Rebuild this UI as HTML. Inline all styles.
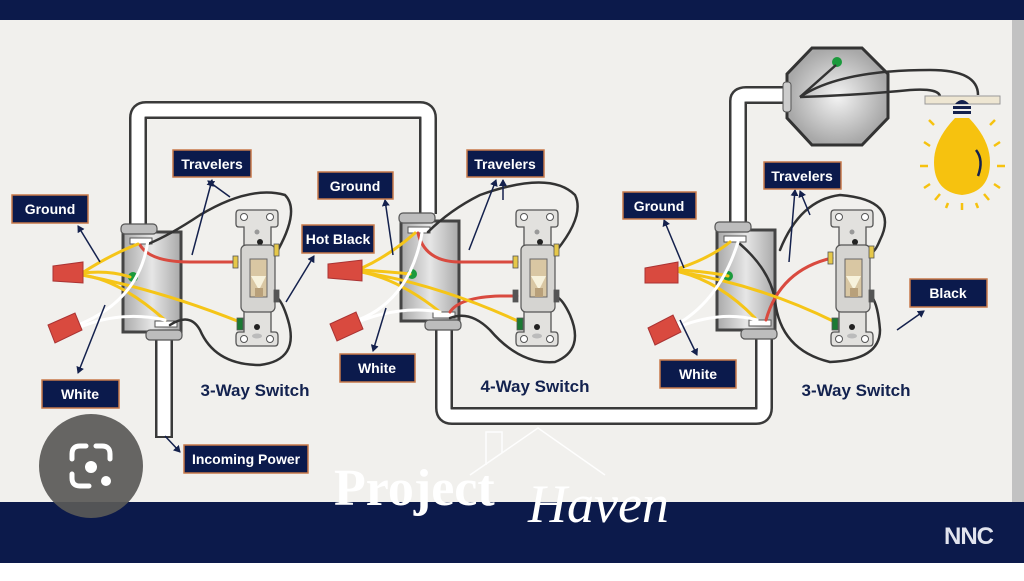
<!DOCTYPE html>
<html><head><meta charset="utf-8"><style>
html,body{margin:0;padding:0;background:#fff;}
svg{display:block;font-family:"Liberation Sans",Arial,sans-serif;}
.lb rect{fill:#0b1a4c;stroke:#c8794a;stroke-width:1.5;}
.lb text{fill:#fff;font-size:14px;font-weight:bold;text-anchor:middle;}
.ti{fill:#13224f;font-size:17px;font-weight:bold;text-anchor:middle;}
.ar{stroke:#14214d;stroke-width:1.5;fill:none;marker-end:url(#ah);}
</style></head><body>
<svg width="1024" height="581" viewBox="0 0 1024 581">
<defs>
<marker id="ah" markerWidth="8" markerHeight="8" refX="6" refY="4" orient="auto" markerUnits="userSpaceOnUse"><path d="M0,0 L7,4 L0,8 Z" fill="#14214d"/></marker>
<linearGradient id="bx" x1="0" x2="1"><stop offset="0" stop-color="#a9a9a9"/><stop offset=".5" stop-color="#e6e6e6"/><stop offset="1" stop-color="#a9a9a9"/></linearGradient>
<radialGradient id="oc"><stop offset="0" stop-color="#f4f4f4"/><stop offset="1" stop-color="#a8a8a8"/></radialGradient>
<g id="sw">
 <path d="M2,0 H38 Q41,0 41,4 V14 Q41,17 38,17 H34 V122 H38 Q41,122 41,126 V132 Q41,136 38,136 H2 Q-1,136 -1,132 V126 Q-1,122 2,122 H7 V17 H2 Q-1,17 -1,14 V4 Q-1,0 2,0Z" fill="#e2e1de" stroke="#555" stroke-width="1.3"/>
 <circle cx="7" cy="7" r="3.5" fill="#fff" stroke="#555"/><circle cx="33" cy="7" r="3.5" fill="#fff" stroke="#555"/>
 <circle cx="7" cy="129" r="3.5" fill="#fff" stroke="#555"/><circle cx="33" cy="129" r="3.5" fill="#fff" stroke="#555"/>
 <circle cx="20" cy="22" r="2.5" fill="#999"/><circle cx="23" cy="32" r="3" fill="#222"/><circle cx="20" cy="117" r="3" fill="#222"/>
 <ellipse cx="20" cy="126" rx="5" ry="2.5" fill="#bbb"/>
 <rect x="4" y="35" width="34" height="67" rx="5" fill="#d5d4d1" stroke="#555" stroke-width="1.2"/>
 <rect x="13" y="49" width="17" height="38" fill="#d9c7a3" stroke="#666"/>
 <path d="M14,66 H29 L22,80Z" fill="#f7f2dc"/><rect x="18" y="78" width="8" height="9" fill="#b8a07a"/>
</g>
<g id="bxg">
 <rect x="0" y="0" width="58" height="100" fill="url(#bx)" stroke="#444" stroke-width="3"/>
</g>
</defs>
<rect width="1024" height="581" fill="#fff"/>
<rect y="20" width="1012" height="482" fill="#f1f0ed"/>
<rect x="1012" y="20" width="12" height="482" fill="#c2c2c2"/>
<rect width="1024" height="20" fill="#0c1a4b"/>
<rect y="502" width="1024" height="61" fill="#0c1a4b"/>

<!-- conduits -->
<g fill="none" stroke="#3a3a3a" stroke-width="18" stroke-linejoin="round">
 <path d="M138,228 V118 Q138,110 146,110 H420 Q428,110 428,118 V214"/>
 <path d="M444,322 V408 Q444,416 452,416 H756 Q764,416 764,408 V338"/>
 <path d="M738,224 V101 Q738,95 746,95 H790"/>
 <path d="M164,340 V438"/>
</g>
<g fill="none" stroke="#fff" stroke-width="13" stroke-linejoin="round">
 <path d="M138,228 V118 Q138,110 146,110 H420 Q428,110 428,118 V214"/>
 <path d="M444,322 V408 Q444,416 452,416 H756 Q764,416 764,408 V338"/>
 <path d="M738,224 V101 Q738,95 746,95 H790"/>
 <path d="M164,340 V436"/>
</g>

<!-- octagon & bulb -->
<path d="M812,48 H862 L888,74 V118 L862,145 H812 L787,118 V74Z" fill="url(#oc)" stroke="#333" stroke-width="3"/>
<rect x="783" y="82" width="8" height="30" rx="3" fill="#ccc" stroke="#555"/>
<circle cx="837" cy="62" r="5" fill="#1b9a3c"/>
<g fill="none" stroke="#333" stroke-width="2.5">
 <path d="M800,97 Q840,70 930,70 Q978,70 978,95"/>
 <path d="M800,97 Q860,95 910,90 Q940,88 940,97"/>
 <path d="M800,97 L836,65"/>
</g>
<rect x="925" y="96" width="75" height="8" fill="#eee6d2" stroke="#999"/>
<path d="M955,104 Q962,96 969,104Z" fill="#14214d"/>
<rect x="953" y="106" width="18" height="3" fill="#14214d"/><rect x="953" y="111" width="18" height="3" fill="#14214d"/>
<path d="M955,118 Q934,140 934,162 Q934,192 962,195 Q990,192 990,162 Q990,140 969,118Z" fill="#f6c20f"/>
<path d="M976,150 Q984,160 978,176" stroke="#14214d" stroke-width="2.5" fill="none"/>
<g stroke="#f6c20f" stroke-width="2.5">
 <line x1="920" y1="166" x2="928" y2="166"/><line x1="997" y1="166" x2="1005" y2="166"/>
 <line x1="924" y1="142" x2="930" y2="146"/><line x1="1000" y1="142" x2="994" y2="146"/>
 <line x1="924" y1="188" x2="930" y2="184"/><line x1="1000" y1="188" x2="994" y2="184"/>
 <line x1="935" y1="200" x2="940" y2="194"/><line x1="989" y1="200" x2="984" y2="194"/>
 <line x1="962" y1="203" x2="962" y2="210"/><line x1="948" y1="203" x2="946" y2="208"/><line x1="976" y1="203" x2="978" y2="208"/>
 <line x1="929" y1="120" x2="934" y2="125"/><line x1="995" y1="120" x2="990" y2="125"/>
</g>

<!-- boxes -->
<use href="#bxg" x="123" y="232"/>
<use href="#bxg" x="401" y="221"/>
<use href="#bxg" x="717" y="230"/>
<g fill="#bdbdbd" stroke="#555" stroke-width="1.2">
 <rect x="121" y="224" width="36" height="10" rx="4"/><rect x="146" y="330" width="36" height="10" rx="4"/>
 <rect x="399" y="213" width="36" height="10" rx="4"/><rect x="425" y="320" width="36" height="10" rx="4"/>
 <rect x="715" y="222" width="36" height="10" rx="4"/><rect x="741" y="329" width="36" height="10" rx="4"/>
</g>
<g fill="#fff" stroke="#555"><rect x="130" y="238" width="22" height="6"/><rect x="155" y="321" width="22" height="6"/>
<rect x="408" y="227" width="22" height="6"/><rect x="433" y="312" width="22" height="6"/>
<rect x="724" y="236" width="22" height="6"/><rect x="749" y="320" width="22" height="6"/></g>
<circle cx="133" cy="277" r="5" fill="#1b9a3c"/><circle cx="412" cy="274" r="5" fill="#1b9a3c"/><circle cx="728" cy="276" r="5" fill="#1b9a3c"/>

<!-- wires box1 -->
<g fill="none" stroke-linecap="round">
 <g stroke="#333" stroke-width="2.5">
  <path d="M148,244 Q170,235 200,215 Q250,185 285,195 Q300,210 278,250"/>
  <path d="M170,325 Q190,312 200,330 Q215,365 260,365 Q300,360 288,320 Q282,300 276,297"/>
  <path d="M428,232 Q450,210 480,195 Q550,170 575,195 Q585,215 557,250"/>
  <path d="M450,318 Q470,310 490,330 Q520,365 555,362 Q585,350 570,315 Q563,300 557,297"/>
  <path d="M740,244 Q770,270 775,300 Q780,350 830,362 Q880,360 880,330 Q878,305 872,297"/>
  <path d="M780,250 Q800,200 840,195 Q900,200 880,240 Q875,252 872,252"/>
 </g>
 <g stroke="#d94a3f" stroke-width="3">
  <path d="M140,245 Q150,262 190,262 H237"/>
  <path d="M418,233 Q425,262 460,262 H517"/>
  <path d="M450,312 Q460,297 500,296 H517"/>
  <path d="M766,320 Q780,270 832,258"/>
 </g>
 <g stroke="#f5c518" stroke-width="3">
  <path d="M82,273 Q110,255 138,244"/><path d="M82,273 Q110,270 130,277"/>
  <path d="M82,275 Q160,290 240,322"/><path d="M82,275 Q120,280 165,320"/>
  <path d="M362,268 Q390,255 415,233"/><path d="M362,270 Q390,272 410,274"/>
  <path d="M362,272 Q440,285 520,322"/><path d="M362,272 Q400,280 440,312"/>
  <path d="M680,268 Q710,258 730,242"/><path d="M680,270 Q710,272 728,276"/>
  <path d="M680,272 Q760,285 835,322"/><path d="M680,272 Q720,282 755,318"/>
 </g>
 <g stroke="#fff" stroke-width="3">
  <path d="M78,325 Q140,300 148,240"/><path d="M78,328 Q120,310 165,320"/>
  <path d="M358,320 Q410,300 422,233"/><path d="M358,322 Q400,305 440,312"/>
  <path d="M676,325 Q720,300 738,242"/><path d="M676,328 Q720,310 757,320"/>
 </g>
</g>
<!-- wire nuts -->
<g fill="#d94a3f" stroke="#a33" stroke-width="1">
 <path d="M53,266 L83,262 L83,283 L53,281Z"/>
 <path d="M48,325 L75,313 L82,330 L55,343Z"/>
 <path d="M328,264 L362,260 L362,281 L328,278Z"/>
 <path d="M330,324 L356,312 L363,329 L337,341Z"/>
 <path d="M645,268 L678,262 L678,283 L645,283Z"/>
 <path d="M648,328 L673,315 L681,332 L655,345Z"/>
</g>

<!-- switches -->
<use href="#sw" x="237" y="210"/>
<use href="#sw" x="517" y="210"/>
<use href="#sw" x="832" y="210"/>
<g stroke="#555" stroke-width=".8">
 <rect x="233" y="256" width="5" height="12" fill="#e6c84a"/><rect x="274" y="244" width="5" height="12" fill="#e6c84a"/><rect x="274" y="290" width="5" height="12" fill="#555"/><rect x="237" y="318" width="6" height="12" fill="#1b7a34"/>
 <rect x="513" y="256" width="5" height="12" fill="#e6c84a"/><rect x="554" y="244" width="5" height="12" fill="#e6c84a"/><rect x="554" y="290" width="5" height="12" fill="#555"/><rect x="513" y="290" width="5" height="12" fill="#555"/><rect x="517" y="318" width="6" height="12" fill="#1b7a34"/>
 <rect x="828" y="252" width="5" height="12" fill="#e6c84a"/><rect x="869" y="246" width="5" height="12" fill="#e6c84a"/><rect x="869" y="290" width="5" height="12" fill="#555"/><rect x="832" y="318" width="6" height="12" fill="#1b7a34"/>
</g>

<!-- arrows -->
<path class="ar" d="M100,262 L78,226"/><path class="ar" d="M105,305 L78,373"/>
<path class="ar" d="M192,255 L212,180"/><path class="ar" d="M230,197 L208,181"/>
<path class="ar" d="M286,302 L314,256"/>
<path class="ar" d="M165,436 L180,452"/>
<path class="ar" d="M393,255 L385,200"/><path class="ar" d="M386,308 L373,351"/>
<path class="ar" d="M469,250 L496,180"/><path class="ar" d="M503,200 L503,180"/>
<path class="ar" d="M684,268 L664,220"/><path class="ar" d="M680,320 L697,355"/>
<path class="ar" d="M789,262 L795,190"/><path class="ar" d="M810,215 L800,191"/>
<path class="ar" d="M897,330 L924,311"/>

<!-- labels -->
<g class="lb">
 <rect x="12" y="195" width="76" height="28"/><text x="50" y="214">Ground</text>
 <rect x="173" y="150" width="78" height="27"/><text x="212" y="169">Travelers</text>
 <rect x="42" y="380" width="77" height="28"/><text x="80" y="399">White</text>
 <rect x="302" y="225" width="72" height="28"/><text x="338" y="244">Hot Black</text>
 <rect x="318" y="172" width="75" height="27"/><text x="355" y="191">Ground</text>
 <rect x="467" y="150" width="77" height="27"/><text x="505" y="169">Travelers</text>
 <rect x="340" y="354" width="75" height="28"/><text x="377" y="373">White</text>
 <rect x="184" y="445" width="124" height="28"/><text x="246" y="464">Incoming Power</text>
 <rect x="623" y="192" width="73" height="27"/><text x="659" y="211">Ground</text>
 <rect x="764" y="162" width="77" height="27"/><text x="802" y="181">Travelers</text>
 <rect x="660" y="360" width="76" height="28"/><text x="698" y="379">White</text>
 <rect x="910" y="279" width="77" height="28"/><text x="948" y="298">Black</text>
</g>
<text class="ti" x="255" y="396">3-Way Switch</text>
<text class="ti" x="535" y="392">4-Way Switch</text>
<text class="ti" x="856" y="396">3-Way Switch</text>

<!-- watermark -->
<g fill="none" stroke="#fff" stroke-width="1.5" opacity=".9">
 <path d="M470,475 L538,428 L605,475"/><path d="M486,465 V432 H502 V453"/>
</g>
<text x="334" y="505" fill="#fff" font-family="Liberation Serif,serif" font-size="52" font-weight="bold">Project</text>
<text x="528" y="522" fill="#fff" font-family="Liberation Serif,serif" font-size="54" font-style="italic">Haven</text>
<text x="944" y="544" fill="#e2e4ee" font-size="24" font-weight="bold" letter-spacing="-1">NNC</text>

<!-- lens button -->
<circle cx="91" cy="466" r="52" fill="#5a5957" opacity=".92"/>
<g fill="none" stroke="#fff" stroke-width="5" stroke-linecap="round">
 <path d="M72,459 V454 Q72,446 80,446 H86 M72,474 V478 Q72,486 80,486 H89 M110,459 V454 Q110,446 102,446 H96"/>
</g>
<circle cx="91" cy="467" r="6" fill="#fff"/><circle cx="106" cy="481" r="5" fill="#fff"/>
</svg>
</body></html>
